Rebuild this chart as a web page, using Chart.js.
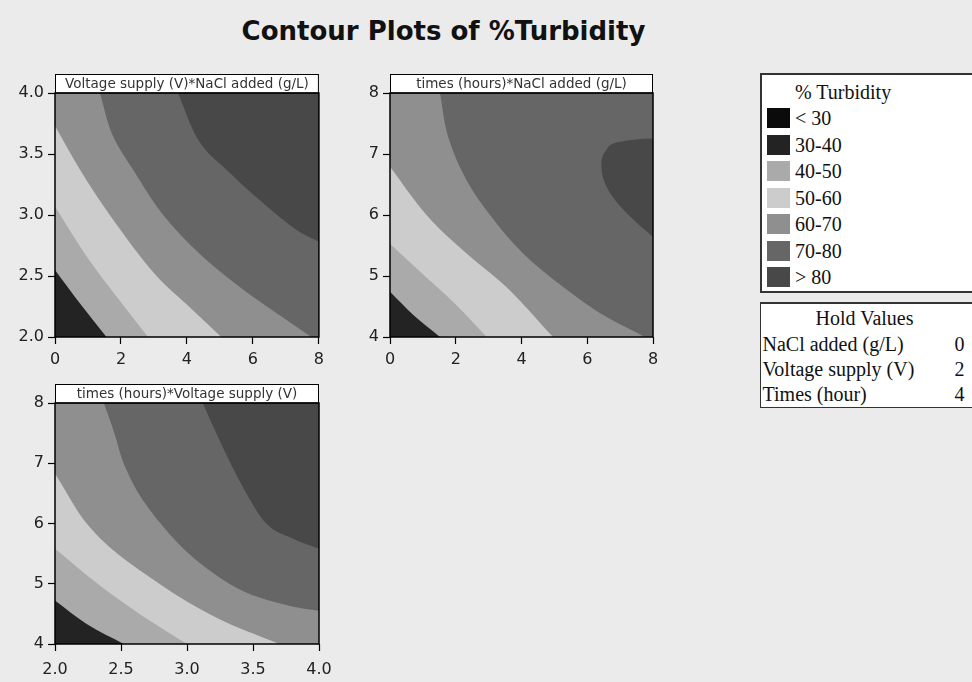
<!DOCTYPE html>
<html>
<head>
<meta charset="utf-8">
<title>Contour Plots of %Turbidity</title>
<script src="https://cdn.jsdelivr.net/npm/chart.js@4.4.1/dist/chart.umd.min.js"></script>
<style>
  html, body { margin: 0; padding: 0; background: #ebebeb; overflow: hidden; }
  body { width: 972px; height: 682px; position: relative; }
  #title { position: absolute; left: 0; top: 18px; width: 887px; text-align: center;
           font: bold 26px "DejaVu Sans"; line-height: 26px; color: #111; }
  canvas { position: absolute; }
  .box { position: absolute; background: #fff; border: 2px solid #333; border-right: none;
         font-family: "Liberation Serif"; font-size: 20px; color: #111; }
  .row { position: absolute; line-height: 20px; white-space: nowrap; }
  .sw { position: absolute; width: 23px; height: 20px; }
</style>
</head>
<body>
<div id="title">Contour Plots of %Turbidity</div>
<canvas id="c1" width="330" height="300" style="left:0;top:70px"></canvas>
<canvas id="c2" width="340" height="300" style="left:330px;top:70px"></canvas>
<canvas id="c3" width="350" height="305" style="left:0;top:375px"></canvas>
<div class="box" id="legend" style="left:760px;top:73px;width:220px;height:216px"></div>
<div class="box" id="hold" style="left:760px;top:302px;width:220px;height:103px;border-width:2px 0 1.5px 1.5px"></div>
<script>
// contour levels
var levelLabels = ['< 30', '30-40', '40-50', '50-60', '60-70', '70-80', '> 80'];
var levelColors = ['#0b0b0b', '#232323', '#aaaaaa', '#cccccc', '#8f8f8f', '#666666', '#484848'];

var holdNames = ['NaCl added (g/L)', 'Voltage supply (V)', 'Times (hour)'];
var holdValues = [0, 2, 4];

// panel 1: Voltage supply (V) vs NaCl added (g/L) -- contour lines
var vnTicksX = [0, 2, 4, 6, 8];
var vnTicksY = [2.0, 2.5, 3.0, 3.5, 4.0];
var vnTop = [[0, 4], [8, 4]];
var vn80 = [[3.73, 4], [4.29, 3.64], [5.2, 3.37], [6.3, 3.1], [7.31, 2.88], [8, 2.78]];
var vn70 = [[7.77, 2.0], [6.91, 2.16], [5.6, 2.41], [4.39, 2.68], [3.28, 3.0], [2.37, 3.37], [1.77, 3.64], [1.36, 4]];
var vn60 = [[0, 3.73], [0.76, 3.37], [1.66, 3.0], [3.08, 2.5], [3.98, 2.27], [5.04, 2.0]];
var vn50 = [[0, 3.07], [0.96, 2.66], [1.87, 2.33], [2.82, 2.0]];
var vn40 = [[0, 2.55], [0.8, 2.26], [1.56, 2.0]];

// panel 2: times (hours) vs NaCl added (g/L)
var tnTicksX = [0, 2, 4, 6, 8];
var tnTicksY = [4, 5, 6, 7, 8];
var tnTop = [[0, 8], [8, 8]];
var tn80 = [[8, 5.64], [7.49, 5.88], [6.99, 6.15], [6.58, 6.47], [6.43, 6.79], [6.58, 7.06], [6.99, 7.2], [7.7, 7.25], [8, 7.26]];
var tn70 = [[7.75, 4], [6.58, 4.33], [5.27, 4.82], [4.05, 5.37], [3.04, 6.0], [2.33, 6.57], [1.77, 7.28], [1.52, 8]];
var tn60 = [[0, 6.79], [1.11, 6.0], [2.33, 5.37], [3.54, 4.82], [4.96, 4]];
var tn50 = [[0, 5.53], [1.06, 5.0], [1.97, 4.55], [2.94, 4]];
var tn40 = [[0, 4.74], [0.71, 4.36], [1.52, 4]];

// panel 3: times (hours) vs Voltage supply (V)
var tvTicksX = [2.0, 2.5, 3.0, 3.5, 4.0];
var tvTicksY = [4, 5, 6, 7, 8];
var tvTop = [[2, 8], [4, 8]];
var tv80 = [[3.12, 8], [3.2, 7.6], [3.33, 7.0], [3.45, 6.5], [3.6, 6.0], [3.8, 5.75], [4, 5.58]];
var tv70 = [[2.37, 8], [2.45, 7.5], [2.52, 7.0], [2.8, 6.0], [3.32, 5.0], [3.78, 4.63], [4, 4.55]];
var tv60 = [[2, 6.83], [2.24, 6.0], [2.79, 5.0], [3.22, 4.44], [3.7, 4]];
var tv50 = [[2, 5.58], [2.34, 4.97], [2.64, 4.5], [3.0, 4]];
var tv40 = [[2, 4.72], [2.24, 4.33], [2.52, 4]];

// white strip with the panel name + black frame round the plot
var framePlugin = {
  id: 'frame',
  afterDatasetsDraw: function (chart, args, opts) {
    var a = chart.chartArea, ctx = chart.ctx;
    ctx.save();
    ctx.fillStyle = '#fff';
    ctx.fillRect(a.left, a.top - 19, a.right - a.left, 19);
    ctx.strokeStyle = '#000';
    ctx.lineWidth = 1;
    ctx.strokeRect(a.left + 0.5, a.top - 18.5, a.right - a.left - 1, 18.5);
    ctx.lineWidth = 1.5;
    ctx.strokeRect(a.left, a.top, a.right - a.left, a.bottom - a.top);
    ctx.fillStyle = '#333';
    ctx.font = '13.5px "DejaVu Sans"';
    ctx.textAlign = 'center';
    ctx.textBaseline = 'middle';
    ctx.fillText(opts.text, (a.left + a.right) / 2, a.top - 9);
    ctx.restore();
  }
};

// one filled region; byY = contour runs top to bottom, so it is a function of y
function band(pts, level, fill, byY) {
  var data = pts.map(function (p) { return { x: p[0], y: p[1] }; });
  if (byY) data.sort(function (a, b) { return a.y - b.y; });
  return {
    data: data,
    indexAxis: byY ? 'y' : 'x',
    backgroundColor: levelColors[level],
    borderColor: 'rgba(0,0,0,0)',
    borderWidth: 0,
    pointRadius: 0,
    fill: fill,
    cubicInterpolationMode: 'monotone'
  };
}

function axis(min, max, ticks, decimals, size, padding) {
  return {
    type: 'linear',
    min: min,
    max: max,
    afterBuildTicks: function (s) { s.ticks = ticks.map(function (v) { return { value: v }; }); },
    afterFit: function (s) { if (s.isHorizontal()) s.height = size; else s.width = size; },
    grid: { drawOnChartArea: false, color: '#000', tickLength: 7, tickWidth: 1.2 },
    border: { display: false },
    ticks: {
      autoSkip: false, maxRotation: 0, padding: padding, color: '#222',
      font: { family: 'DejaVu Sans', size: 16 },
      callback: function (v) { return v.toFixed(decimals); }
    }
  };
}

function panel(id, title, datasets, xs, ys, pad) {
  new Chart(document.getElementById(id), {
    type: 'line',
    data: { datasets: datasets },
    options: {
      responsive: false,
      animation: false,
      layout: { padding: pad },
      plugins: { legend: { display: false }, tooltip: { enabled: false }, frame: { text: title } },
      scales: { x: xs, y: ys }
    },
    plugins: [framePlugin]
  });
}

// first dataset is painted last (on top)
panel('c1', 'Voltage supply (V)*NaCl added (g/L)',
  [band(vn40, 1, { value: 2 }), band(vn50, 2, { value: 2 }), band(vn60, 3, { value: 2 }),
   band(vn70, 4, { value: 0 }, true), band(vn80, 6, { value: 4 }), band(vnTop, 5, { value: 2 })],
  axis(0, 8, vnTicksX, 0, 33, 6), axis(2, 4, vnTicksY, 1, 55, 4),
  { top: 23, right: 10, left: 0, bottom: 0 });

panel('c2', 'times (hours)*NaCl added (g/L)',
  [band(tn40, 1, { value: 4 }), band(tn50, 2, { value: 4 }), band(tn60, 3, { value: 4 }),
   band(tn70, 4, { value: 0 }, true), band(tn80, 6, { value: 8 }, true), band(tnTop, 5, { value: 4 })],
  axis(0, 8, tnTicksX, 0, 33, 6), axis(4, 8, tnTicksY, 0, 60, 4),
  { top: 23, right: 17, left: 0, bottom: 0 });

panel('c3', 'times (hours)*Voltage supply (V)',
  [band(tv40, 1, { value: 4 }), band(tv50, 2, { value: 4 }), band(tv60, 3, { value: 4 }),
   band(tv80, 6, { value: 8 }), band(tv70, 5, { value: 8 }), band(tvTop, 4, { value: 4 })],
  axis(2, 4, tvTicksX, 1, 36, 9), axis(4, 8, tvTicksY, 0, 55, 4),
  { top: 28, right: 31, left: 0, bottom: 0 });

// legend box
var legend = document.getElementById('legend');
var html = '<div class="row" style="left:33px;top:7px">% Turbidity</div>';
levelLabels.forEach(function (lab, i) {
  var top = 33 + i * 26.5;
  html += '<div class="sw" style="left:5px;top:' + top + 'px;background:' + levelColors[i] + '"></div>';
  html += '<div class="row" style="left:33px;top:' + top + 'px">' + lab.replace('<', '&lt;').replace('>', '&gt;') + '</div>';
});
legend.innerHTML = html;

// hold values box
var hold = document.getElementById('hold');
var h = '<div class="row" style="left:0;width:207px;text-align:center;top:4px">Hold Values</div>';
holdNames.forEach(function (name, i) {
  var top = 30 + i * 25;
  h += '<div class="row" style="left:1.5px;top:' + top + 'px">' + name + '</div>';
  h += '<div class="row" style="left:193.5px;top:' + top + 'px">' + holdValues[i] + '</div>';
});
hold.innerHTML = h;
</script>
</body>
</html>
